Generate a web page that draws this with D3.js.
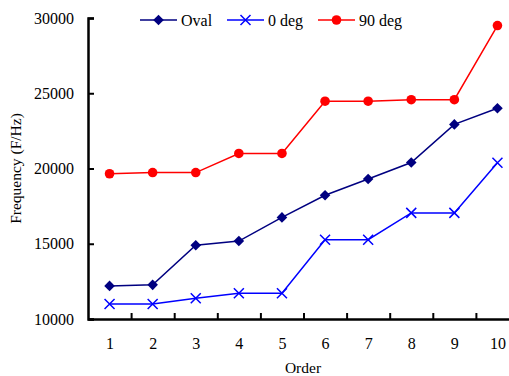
<!DOCTYPE html>
<html>
<head>
<meta charset="utf-8">
<script src="https://cdn.jsdelivr.net/npm/d3@7"></script>
<style>
  body { margin: 0; background: #fff; }
  svg { display: block; }
  svg text { font-family: "Liberation Serif", "Times New Roman", serif !important; fill: #000; }
</style>
</head>
<body>
<div id="chart"></div>
<script>
// DATA
const orders = [1, 2, 3, 4, 5, 6, 7, 8, 9, 10]
const oval   = [12200, 12270, 14900, 15180, 16750, 18220, 19300, 20400, 22930, 24000]
const deg0   = [11000, 11000, 11380, 11710, 11710, 15270, 15270, 17050, 17050, 20380]
const deg90  = [19650, 19730, 19730, 21000, 21000, 24470, 24470, 24570, 24570, 29500]
const yTicks = [10000, 15000, 20000, 25000, 30000]

const width = 509, height = 376
const plotLeft = 88, plotTop = 18, plotBottom = 319

// SCALE
const xScale = d3.scaleLinear()
    .domain([0.5, 10.5])
    .range([plotLeft, plotLeft + 431])

const yScale = d3.scaleLinear()
    .domain([10000, 30000])
    .range([plotBottom, plotTop])

const svg = d3.select("#chart")
    .append("svg")
    .attr("width", width)
    .attr("height", height)

// AXES
// y axis
const yAxis = svg.append("g")
    .attr("transform", `translate(${plotLeft},0)`)
    .call(d3.axisLeft(yScale).tickValues(yTicks).tickSize(-6).tickPadding(14).tickFormat(d3.format("d")))
yAxis.select(".domain").attr("stroke", "#000").attr("stroke-width", 2.5)
yAxis.selectAll(".tick line").attr("stroke", "#000").attr("stroke-width", 2)
yAxis.selectAll("text").attr("font-size", 16)

// x axis: labels at category centres
const xLabels = svg.append("g")
    .attr("transform", `translate(0,${plotBottom})`)
    .call(d3.axisBottom(xScale).tickValues(orders).tickSize(0).tickPadding(19).tickFormat(d3.format("d")))
xLabels.select(".domain").attr("stroke", "#000").attr("stroke-width", 2.5)
xLabels.selectAll("text").attr("font-size", 16)

// x axis: ticks at category boundaries
const xTicks = svg.append("g")
    .attr("transform", `translate(0,${plotBottom})`)
    .call(d3.axisBottom(xScale).tickValues(orders.map(d => d + 0.5)).tickSize(-6).tickFormat(""))
xTicks.select(".domain").remove()
xTicks.selectAll(".tick line").attr("stroke", "#000").attr("stroke-width", 2)

// axis titles
svg.append("text")
    .attr("transform", `translate(21,${(plotTop + plotBottom) / 2}) rotate(-90)`)
    .attr("text-anchor", "middle")
    .attr("font-size", 15.5)
    .text("Frequency (F/Hz)")

svg.append("text")
    .attr("x", 303)
    .attr("y", 373)
    .attr("text-anchor", "middle")
    .attr("font-size", 15.5)
    .text("Order")

// SERIES
const series = [
    { name: "Oval",   values: oval,  color: "#000080", marker: "diamond", lx: 140 },
    { name: "0 deg",  values: deg0,  color: "#0000ff", marker: "cross",   lx: 227 },
    { name: "90 deg", values: deg90, color: "#ff0000", marker: "circle",  lx: 318 }
]

function drawMarker(g, type, color) {
    if (type === "diamond") {
        g.append("path").attr("d", "M0,-5.3L5.3,0L0,5.3L-5.3,0Z").attr("fill", color)
    } else if (type === "cross") {
        g.append("path").attr("d", "M-5,-5L5,5M-5,5L5,-5").attr("stroke", color).attr("stroke-width", 1.5).attr("fill", "none")
    } else {
        g.append("circle").attr("r", 4.8).attr("fill", color)
    }
}

const line = d3.line()
    .x((d, i) => xScale(orders[i]))
    .y(d => yScale(d))

series.forEach(s => {
    svg.append("path")
        .datum(s.values)
        .attr("d", line)
        .attr("fill", "none")
        .attr("stroke", s.color)
        .attr("stroke-width", 1.5)

    s.values.forEach((v, i) => {
        const g = svg.append("g").attr("transform", `translate(${xScale(orders[i])},${yScale(v)})`)
        drawMarker(g, s.marker, s.color)
    })

    // LEGEND
    const lg = svg.append("g").attr("transform", `translate(${s.lx},20)`)
    lg.append("line").attr("x1", 0).attr("x2", 37).attr("stroke", s.color).attr("stroke-width", 1.5)
    drawMarker(lg.append("g").attr("transform", "translate(18.5,0)"), s.marker, s.color)
    lg.append("text")
        .attr("x", 41)
        .attr("y", 5.5)
        .attr("font-size", 16)
        .text(s.name)
})
</script>
</body>
</html>
